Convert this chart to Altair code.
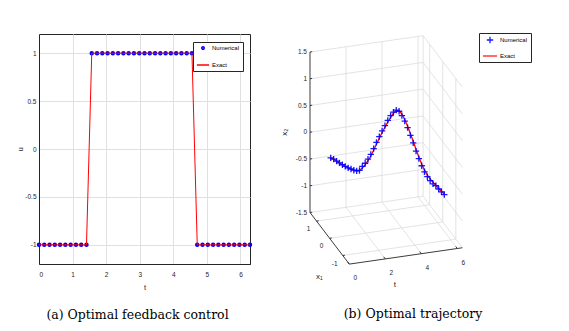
import math
import altair as alt
import pandas as pd

# ---------------- data ----------------
SERIES = ["Numerical", "Exact"]

# time grid (shared by both panels)
t_grid = [0.000, 0.157, 0.314, 0.471, 0.628, 0.785, 0.942, 1.100, 1.257, 1.414,
          1.571, 1.728, 1.885, 2.042, 2.199, 2.356, 2.513, 2.670, 2.827, 2.985,
          3.142, 3.299, 3.456, 3.613, 3.770, 3.927, 4.084, 4.241, 4.398, 4.555,
          4.712, 4.869, 5.027, 5.184, 5.341, 5.498, 5.655, 5.812, 5.969, 6.126, 6.283]

# panel (a): control u(t)
u_values = [-1, -1, -1, -1, -1, -1, -1, -1, -1, -1,
            1, 1, 1, 1, 1, 1, 1, 1, 1, 1,
            1, 1, 1, 1, 1, 1, 1, 1, 1, 1,
            -1, -1, -1, -1, -1, -1, -1, -1, -1, -1, -1]

# panel (b): trajectory (t, x1, x2)
x1_values = [-0.08, -0.09, -0.10, -0.10, -0.11, -0.11, -0.12, -0.12, -0.12, -0.12,
             -0.12, -0.12, -0.12, -0.12, -0.12, -0.12, -0.12, -0.12, -0.12, -0.12,
             -0.12, -0.12, -0.12, -0.12, -0.12, -0.12, -0.12, -0.12, -0.12, -0.12,
             -0.12, -0.12, -0.12, -0.12, -0.12, -0.12, -0.12, -0.12, -0.12, -0.12, -0.12]
x2_exact = [0.03, 0.00, -0.04, -0.08, -0.12, -0.16, -0.19, -0.22, -0.25, -0.27,
            -0.27, -0.23, -0.18, -0.11, -0.03, 0.07, 0.18, 0.28, 0.38, 0.47,
            0.56, 0.64, 0.71, 0.75, 0.74, 0.67, 0.56, 0.43, 0.28, 0.13,
            -0.03, -0.18, -0.32, -0.44, -0.54, -0.62, -0.69, -0.75, -0.82, -0.88, -0.94]
x2_numerical = [0.03, 0.00, -0.04, -0.08, -0.12, -0.16, -0.19, -0.22, -0.25, -0.27,
                -0.27, -0.20, -0.15, -0.08, 0.00, 0.10, 0.21, 0.31, 0.41, 0.50,
                0.59, 0.67, 0.73, 0.76, 0.73, 0.64, 0.53, 0.40, 0.25, 0.10,
                -0.06, -0.21, -0.35, -0.47, -0.57, -0.65, -0.72, -0.76, -0.83, -0.89, -0.95]

# axis ticks / labels
t_axis_ticks = [0, 1, 2, 3, 4, 5, 6]
u_axis_ticks = [-1, -0.5, 0, 0.5, 1]
t_ticks = [0, 2, 4, 6]
x1_ticks = [1, 0, -1]
x2_ticks = [1.5, 1, 0.5, 0, -0.5, -1, -1.5]
x2_tick_labels = ["1.5", "1", "0.5", "0", "-0.5", "-1", "-1.5"]
T_MAX = 2 * math.pi
X1_LIM = (-1.5, 1.5)
X2_LIM = (-1.5, 1.5)

# ---------------- styling ----------------
FONT = "Liberation Sans"
DARK = "#262626"
GRID = "#e0e0e0"
BLUE = "#0000ff"
RED = "#ff0000"
CAPTION_FONT = "DejaVu Serif"

# ---------------- panel (a) ----------------
W_A, H_A = 211, 230
df_a = pd.DataFrame({"t": t_grid, "u": u_values, "series": "Numerical"})

x_axis_a = alt.Axis(values=t_axis_ticks, title="t", labelOverlap=False,
                    labelExpr="'' + datum.value", grid=True, gridColor=GRID,
                    domainColor=DARK, tickSize=0, labelPadding=7,
                    labelFont=FONT, labelFontSize=6.5, labelColor=DARK,
                    titleFont=FONT, titleFontSize=7.5, titleFontWeight="normal",
                    titleColor=DARK, titlePadding=6)
y_axis_a = alt.Axis(values=u_axis_ticks, title="u", labelOverlap=False,
                    labelExpr="'' + datum.value", grid=True, gridColor=GRID,
                    domainColor=DARK, tickSize=0, labelPadding=3,
                    labelFont=FONT, labelFontSize=6.5, labelColor=DARK,
                    titleFont=FONT, titleFontSize=7.5, titleFontWeight="normal",
                    titleColor=DARK, titlePadding=0)
x_scale_a = alt.Scale(domain=[0, T_MAX], nice=False, zero=False)
y_scale_a = alt.Scale(domain=[-1.2, 1.2], nice=False, zero=False)
xa = alt.X("t:Q", scale=x_scale_a, axis=x_axis_a)
ya = alt.Y("u:Q", scale=y_scale_a, axis=y_axis_a)

leg_a = alt.Legend(title=None, orient="none", legendX=154, legendY=8,
                   fillColor="white", strokeColor=DARK, padding=3,
                   labelFont=FONT, labelFontSize=6, labelColor="black",
                   symbolStrokeWidth=1.5, rowPadding=5, labelOffset=2)

pts_a = alt.Chart(df_a).mark_point(filled=False, strokeWidth=2, opacity=1).encode(
    x=xa, y=ya,
    color=alt.Color("series:N", scale=alt.Scale(domain=SERIES, range=[BLUE, RED]), legend=leg_a),
    shape=alt.Shape("series:N", scale=alt.Scale(domain=SERIES, range=["circle", "stroke"]), legend=leg_a),
    size=alt.Size("series:N", scale=alt.Scale(domain=SERIES, range=[6, 150]), legend=leg_a),
)
line_a = alt.Chart(df_a).mark_line(color=RED, strokeWidth=1).encode(x=xa, y=ya)

panel_a = alt.layer(pts_a, line_a).properties(
    width=W_A, height=H_A,
    view=alt.ViewBackground(stroke=DARK, strokeWidth=1),
    title=alt.TitleParams("(a) Optimal feedback control", orient="bottom",
                          font=CAPTION_FONT, fontSize=12.5, fontWeight="normal",
                          color="black", offset=18, dx=-7),
)

# ---------------- panel (b): projected 3-D plot ----------------
OX, OY = 270, 33          # page position of panel (b) plot origin
W_B, H_B = 280, 258


def proj(t, x1, x2):
    sx = 311.0 + 18.0 * t + 13.1 * (X1_LIM[1] - x1)
    sy = 211.5 - 2.6 * t + 17.2 * (X1_LIM[1] - x1) - 53.5 * (x2 - X2_LIM[0])
    return sx, sy


def seg(p, q, kind):
    a = proj(*p)
    b = proj(*q)
    return {"sx": a[0], "sy": a[1], "sx2": b[0], "sy2": b[1], "kind": kind}


grid_rows = []
x1_hi, x1_lo = X1_LIM[1], X1_LIM[0]
z_lo, z_hi = X2_LIM
for v in x2_ticks:  # back wall + side wall horizontals
    grid_rows.append(seg((0, x1_hi, v), (T_MAX, x1_hi, v), "grid"))
    grid_rows.append(seg((T_MAX, x1_hi, v), (T_MAX, x1_lo, v), "grid"))
for tv in t_ticks[1:] + [T_MAX]:  # back wall verticals
    grid_rows.append(seg((tv, x1_hi, z_lo), (tv, x1_hi, z_hi), "grid"))
for tv in t_ticks[1:]:  # floor lines of constant t
    grid_rows.append(seg((tv, x1_hi, z_lo), (tv, x1_lo, z_lo), "grid"))
for xv in x1_ticks:  # side-wall verticals and floor lines of constant x1
    grid_rows.append(seg((T_MAX, xv, z_lo), (T_MAX, xv, z_hi), "grid"))
    grid_rows.append(seg((0, xv, z_lo), (T_MAX, xv, z_lo), "grid"))
grid_df = pd.DataFrame(grid_rows)

axis_rows = [
    seg((0, x1_hi, z_lo), (0, x1_hi, z_hi), "axis"),
    seg((0, x1_hi, z_lo), (0, x1_lo, z_lo), "axis"),
    seg((0, x1_lo, z_lo), (T_MAX, x1_lo, z_lo), "axis"),
]
for v in x2_ticks:
    axis_rows.append(seg((0, x1_hi, v), (0.12, x1_hi, v), "tick"))
for xv in x1_ticks:
    axis_rows.append(seg((0, xv, z_lo), (0.12, xv, z_lo), "tick"))
for tv in t_ticks:
    axis_rows.append(seg((tv, x1_lo, z_lo), (tv, x1_lo + 0.12, z_lo), "tick"))
axis_df = pd.DataFrame(axis_rows)

exact_pts = [proj(t, a, b) for t, a, b in zip(t_grid, x1_values, x2_exact)]
num_pts = [proj(t, a, b) for t, a, b in zip(t_grid, x1_values, x2_numerical)]
exact_df = pd.DataFrame({"t": t_grid, "sx": [p[0] for p in exact_pts], "sy": [p[1] for p in exact_pts]})
num_df = pd.DataFrame({"t": t_grid, "sx": [p[0] for p in num_pts], "sy": [p[1] for p in num_pts],
                       "series": "Numerical"})

zl = [proj(0, x1_hi, v) for v in x2_ticks]
zlab_df = pd.DataFrame({"sx": [p[0] for p in zl], "sy": [p[1] for p in zl], "label": x2_tick_labels})
x1l = [proj(0, v, z_lo) for v in x1_ticks]
x1lab_df = pd.DataFrame({"sx": [p[0] for p in x1l], "sy": [p[1] for p in x1l],
                         "label": [str(v) for v in x1_ticks]})
tl = [proj(v, x1_lo, z_lo) for v in t_ticks]
tlab_df = pd.DataFrame({"sx": [p[0] for p in tl], "sy": [p[1] for p in tl],
                        "label": [str(v) for v in t_ticks]})

p_x2 = proj(0, x1_hi, 0.0)
p_x1 = proj(0, x1_lo, z_lo)
p_t = proj(T_MAX / 2, x1_lo, z_lo)
titles_df = pd.DataFrame({
    "sx": [p_x2[0], p_x1[0], p_t[0]],
    "sy": [p_x2[1], p_x1[1], p_t[1]],
    "label": ["x\u2082", "x\u2081", "t"],
    "which": ["z", "x1", "t"],
})

xs = alt.Scale(domain=[OX, OX + W_B], nice=False, zero=False)
ys = alt.Scale(domain=[OY, OY + H_B], nice=False, zero=False, reverse=True)
XB = alt.X("sx:Q", scale=xs, axis=None)
YB = alt.Y("sy:Q", scale=ys, axis=None)

grid_layer = alt.Chart(grid_df).mark_rule(color="#dcdcdc", strokeWidth=0.8).encode(
    x=XB, y=YB, x2="sx2:Q", y2="sy2:Q")
axis_layer = alt.Chart(axis_df).mark_rule(color=DARK, strokeWidth=0.9).encode(
    x=XB, y=YB, x2="sx2:Q", y2="sy2:Q")
exact_layer = alt.Chart(exact_df).mark_line(color=RED, strokeWidth=1.3).encode(
    x=XB, y=YB, order="t:Q")

PLUS = "M-1,0L1,0M0,-1L0,1"
leg_b = alt.Legend(title=None, orient="none", legendX=480 - OX, legendY=32 - OY,
                   fillColor="white", strokeColor=DARK, padding=3,
                   labelFont=FONT, labelFontSize=6, labelColor="black",
                   symbolStrokeWidth=1.3, rowPadding=2, labelOffset=2)
num_layer = alt.Chart(num_df).mark_point(filled=False, strokeWidth=1.3, opacity=0.9).encode(
    x=XB, y=YB,
    color=alt.Color("series:N", scale=alt.Scale(domain=SERIES, range=[BLUE, RED]), legend=leg_b),
    shape=alt.Shape("series:N", scale=alt.Scale(domain=SERIES, range=[PLUS, "stroke"]), legend=leg_b),
    size=alt.Size("series:N", scale=alt.Scale(domain=SERIES, range=[40, 200]), legend=leg_b),
)

txt = dict(font=FONT, fontSize=6.5, color=DARK)
zlab_layer = alt.Chart(zlab_df).mark_text(align="right", baseline="middle", dx=-3, **txt).encode(
    x=XB, y=YB, text="label:N")
x1lab_layer = alt.Chart(x1lab_df).mark_text(align="center", baseline="middle", dx=-8, dy=8, **txt).encode(
    x=XB, y=YB, text="label:N")
tlab_layer = alt.Chart(tlab_df).mark_text(align="center", baseline="middle", dx=6, dy=14, **txt).encode(
    x=XB, y=YB, text="label:N")
ttl = dict(font=FONT, fontSize=8, color=DARK, baseline="middle", align="center")
z_title = alt.Chart(titles_df).transform_filter("datum.which == 'z'").mark_text(
    angle=270, dy=-25, **ttl).encode(x=XB, y=YB, text="label:N")
x1_title = alt.Chart(titles_df).transform_filter("datum.which == 'x1'").mark_text(
    dx=-30, dy=13, **ttl).encode(x=XB, y=YB, text="label:N")
t_title = alt.Chart(titles_df).transform_filter("datum.which == 't'").mark_text(
    dx=-11, dy=29, **ttl).encode(x=XB, y=YB, text="label:N")

panel_b = alt.layer(grid_layer, axis_layer, exact_layer, num_layer,
                    zlab_layer, x1lab_layer, tlab_layer, z_title, x1_title, t_title).properties(
    width=W_B, height=H_B,
    title=alt.TitleParams("(b) Optimal trajectory", orient="bottom",
                          font=CAPTION_FONT, fontSize=12.5, fontWeight="normal",
                          color="black", offset=16, dx=4),
)

chart = alt.hconcat(panel_a, panel_b, spacing=12).resolve_scale(
    color="independent", shape="independent", size="independent"
).properties(
    padding={"left": 8, "top": 24, "right": 5, "bottom": 5}
).configure_view(stroke="transparent")

chart.save("out.html", embed_options={"renderer": "svg", "actions": False})
